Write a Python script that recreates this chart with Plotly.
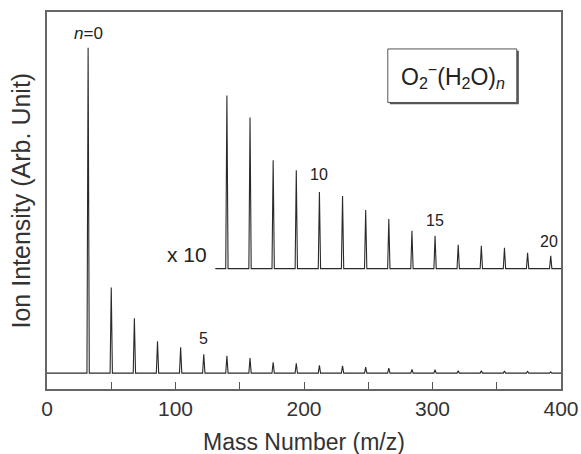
import plotly.graph_objects as go

# ---- data ----
cluster_n = list(range(21))
mass = [32 + 18 * n for n in cluster_n]  # O2-(H2O)n masses
intensity = [327, 86, 55, 32, 26, 19, 17.4, 15.2, 10.9, 9.9, 7.7, 7.3, 5.9,
             5.0, 3.8, 3.3, 2.4, 2.3, 2.1, 1.6, 1.3]
inset_first_n = 6
inset_factor = 10
inset_offset = 105
inset_start = 131
x_tick_vals = [0, 50, 100, 150, 200, 250, 300, 350, 400]
x_tick_text = ["0", "", "100", "", "200", "", "300", "", "400"]
label_n = [5, 10, 15, 20]

HALF = 0.9
def stick_trace(ms, hs, base, x_start, x_end):
    xs, ys = [x_start], [base]
    for m, h in zip(ms, hs):
        xs += [m - HALF, m, m + HALF]
        ys += [base, base + h, base]
    xs.append(x_end)
    ys.append(base)
    return xs, ys

mx, my = stick_trace(mass, intensity, 0, 0, 400)
ix, iy = stick_trace(mass[inset_first_n:],
                     [inset_factor * v for v in intensity[inset_first_n:]],
                     inset_offset, inset_start, 400)

FONT = "Liberation Sans, Arial, Helvetica, sans-serif"
fig = go.Figure()
fig.add_trace(go.Scatter(x=mx, y=my, mode="lines",
                         line=dict(color="#2a2a2a", width=1.1), hoverinfo="skip"))
fig.add_trace(go.Scatter(x=ix, y=iy, mode="lines",
                         line=dict(color="#2a2a2a", width=1.1), hoverinfo="skip"))

def A(**kw):
    kw.setdefault("showarrow", False)
    kw.setdefault("xanchor", "center")
    kw.setdefault("yanchor", "middle")
    return kw

ann = []
ann.append(A(x=mass[0], y=341, xref="x", yref="y", text="<i>n</i>=0",
             font=dict(size=17, color="#222", family=FONT)))
label_pos = {5: (121.4, 35), 10: (211.7, 200), 15: (302, 153), 20: (390.7, 132)}
for n in label_n:
    px, py = label_pos[n]
    ann.append(A(x=px, y=py, xref="x", yref="y", text=str(n),
                 font=dict(size=16, color="#222", family=FONT)))
ann.append(A(x=109, y=119, xref="x", yref="y", text="x 10",
             font=dict(size=21, color="#222", family=FONT)))
ann.append(A(x=0.789, y=0.831, xref="paper", yref="paper",
             text="O<sub>2</sub><sup>−</sup>(H<sub>2</sub>O)<sub><i>n</i></sub>",
             font=dict(size=23, color="#222", family=FONT)))
ann.append(A(x=-0.0506, y=0.5, xref="paper", yref="paper",
             text="Ion Intensity (Arb. Unit)", textangle=-90,
             font=dict(size=25, color="#333", family=FONT)))
ann.append(A(x=0.5, y=-0.14, xref="paper", yref="paper",
             text="Mass Number (m/z)",
             font=dict(size=23, color="#333", family=FONT)))

shapes = [
    dict(type="rect", xref="paper", yref="paper", x0=0.667, x1=0.918,
         y0=0.755, y1=0.897, fillcolor="#555", line=dict(width=0), layer="above"),
    dict(type="rect", xref="paper", yref="paper", x0=0.663, x1=0.914,
         y0=0.760, y1=0.902, fillcolor="white", line=dict(color="#555", width=1),
         layer="above"),
]

# The page body keeps its 8px top/left margin, so the figure is 8px smaller
fig.update_layout(
    width=573, height=446,
    margin=dict(l=39, r=20, t=2, b=65),
    paper_bgcolor="white", plot_bgcolor="white",
    showlegend=False,
    annotations=ann, shapes=shapes,
    xaxis=dict(range=[0, 400], tickvals=x_tick_vals, ticktext=x_tick_text,
               ticks="inside", ticklen=7, tickcolor="#555", tickwidth=1,
               showline=True, linecolor="#666", linewidth=1.5, mirror=True,
               showgrid=False, zeroline=False,
               tickfont=dict(size=21, color="#333", family=FONT)),
    yaxis=dict(range=[-16, 363], showticklabels=False, ticks="",
               showline=True, linecolor="#666", linewidth=1.5, mirror=True,
               showgrid=False, zeroline=False),
)
fig.write_html(
    "out.html",
    config={"displayModeBar": False},
    post_script="document.body.style.margin='8px 0 0 8px';document.body.style.overflow='hidden';",
)
